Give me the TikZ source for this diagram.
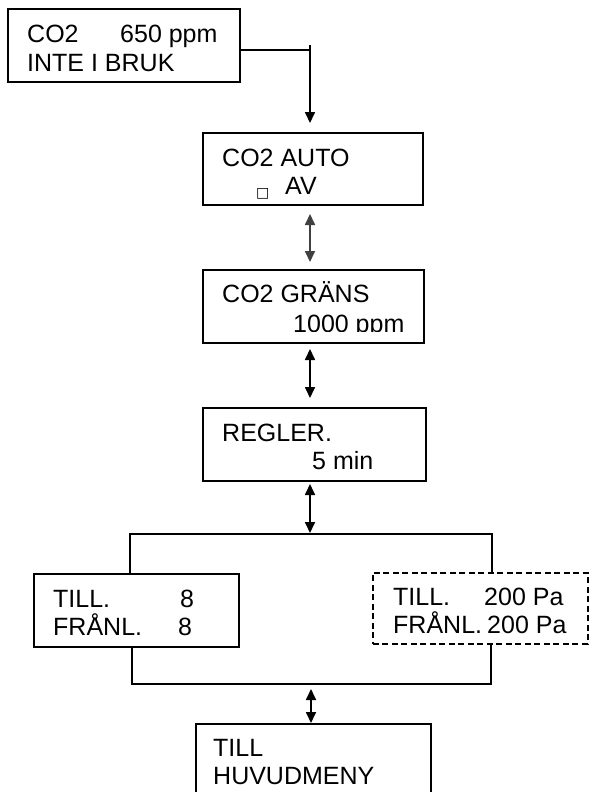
\documentclass[tikz,border=0pt]{standalone}
\usepackage{fontspec}
\setmainfont{Liberation Sans}
\usetikzlibrary{arrows.meta}
\newfontfamily\symfont{DejaVu Sans}
\begin{document}
\begin{tikzpicture}[x=1pt,y=-1pt,
  box/.style={draw, line width=2pt, rectangle, inner sep=0pt, anchor=north west},
  dbox/.style={box, line width=1.8pt, dash pattern=on 6pt off 3.5pt},
  txt/.style={anchor=base west, inner sep=0pt, font=\fontsize{25}{28}\selectfont},
  con/.style={line width=1.7pt},
  arr/.tip={Triangle[length=11pt,width=10pt]},
  tip/.style={con, -arr},
  dbl/.style={con, arr-arr}
]
\useasboundingbox (0,0) rectangle (591,792);
\clip (0,0) rectangle (591,792);
\fill[white] (0,0) rectangle (591,792);

% boxes
\node[box, minimum width=232pt, minimum height=73pt] (b1) at (7,8) {};
\node[box, minimum width=220pt, minimum height=72pt] (b2) at (202,132) {};
\node[box, minimum width=221pt, minimum height=73pt] (b3) at (202,269) {};
\node[box, minimum width=223pt, minimum height=73pt] (b4) at (202,407) {};
\node[box, minimum width=205pt, minimum height=73pt] (b5) at (33,573) {};
\node[dbox, minimum width=215pt, minimum height=71pt] (b6) at (372,572) {};
\node[box, minimum width=235pt, minimum height=110pt] (b7) at (195,723) {};

% texts
\node[txt] (t1a) at (27,43) {CO2};
\node[txt] (t1b) at (120,43) {650 ppm};
\node[txt] (t1c) at (27,71) {INTE I BRUK};

\node[txt] (t2a) at (222,166) {CO2 AUTO};
\node[anchor=base west, inner sep=0pt, font=\symfont\fontsize{14}{16}\selectfont] (t2s) at (256,197) {□};
\node[txt] (t2b) at (285,194) {AV};

\node[txt] (t3a) at (222,302) {CO2 GRÄNS};
\begin{scope}
\clip (203,300) rectangle (421,331.5);
\node[txt] (t3b) at (293,332) {1000 ppm};
\end{scope}

\node[txt] (t4a) at (222,441) {REGLER.};
\node[txt] (t4b) at (312,469) {5 min};

\node[txt] (t5a) at (53,607) {TILL.};
\node[txt] (t5b) at (180,607) {8};
\node[txt] (t5c) at (53,635) {FRÅNL.};
\node[txt] (t5d) at (178,635) {8};

\node[txt] (t6a) at (393,605) {TILL.};
\node[txt] (t6b) at (484,605) {200 Pa};
\node[txt] (t6c) at (393,633) {FRÅNL.};
\node[txt] (t6d) at (487,633) {200 Pa};

\node[txt] (t7a) at (213,756) {TILL};
\node[txt] (t7b) at (213,784) {HUVUDMENY};

% connector coordinates
\coordinate (c1) at (310,50);
\coordinate (c1t) at (310,45);
\coordinate (ax) at (310,0);
\coordinate (bl) at (130,534);
\coordinate (br) at (492,534);
\coordinate (ll) at (132,684);
\coordinate (lr) at (491,684);
\coordinate (bx) at (311,0);

% connectors
\draw[con] (b1.east |- c1) -- (c1);
\draw[tip, shorten >=9pt] (c1t) -- (b2.north -| c1);
\draw[dbl, draw=black!75, fill=black!75, shorten <=8pt, shorten >=7pt] (b2.south -| ax) -- (b3.north -| ax);
\draw[dbl, shorten <=5pt, shorten >=9pt] (b3.south -| ax) -- (b4.north -| ax);
\draw[dbl, shorten <=2pt, shorten >=1pt] (b4.south -| ax) -- (bl -| ax);
\draw[con] (b5.north -| bl) -- (bl) -- (br) -- (b6.north -| br);
\draw[con] (b5.south -| ll) -- (ll) -- (lr) -- (b6.south -| lr);
\draw[dbl, shorten <=5pt] (ll -| bx) -- (b7.north -| bx);
\end{tikzpicture}
\end{document}
